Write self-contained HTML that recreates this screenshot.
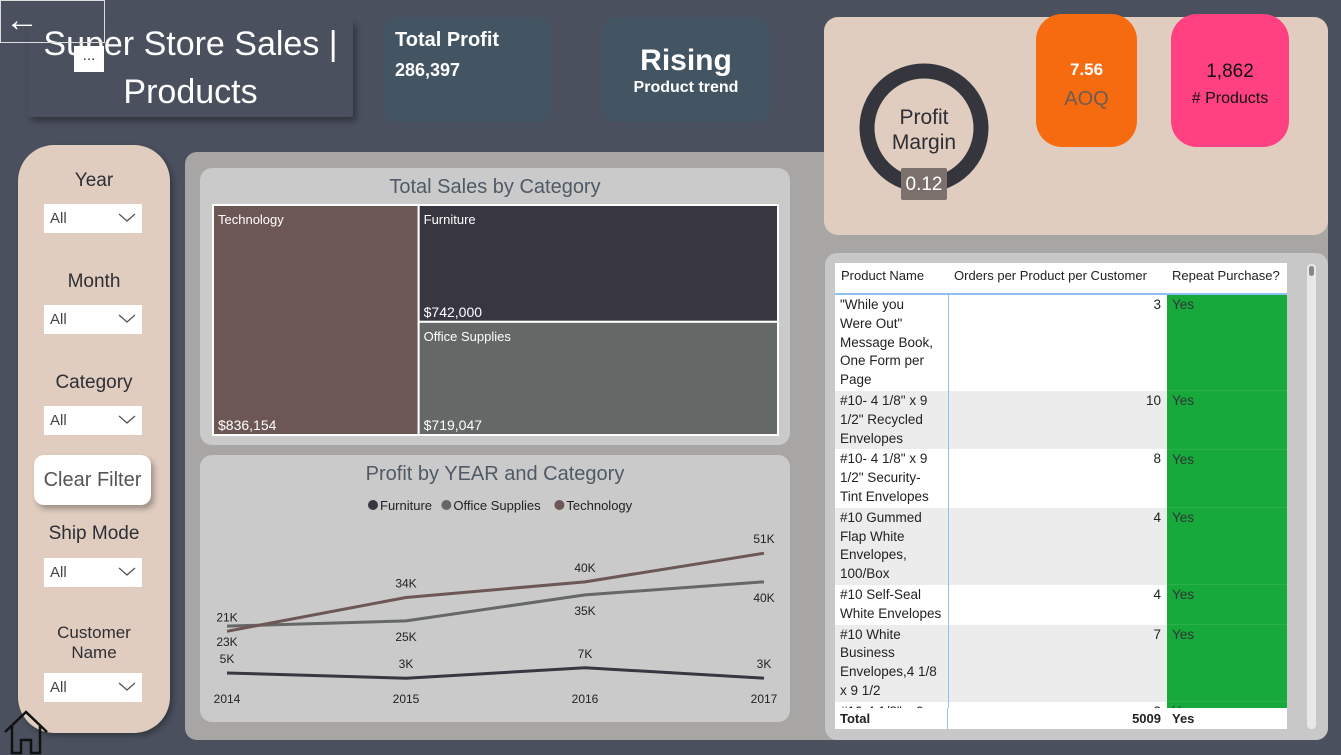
<!DOCTYPE html>
<html><head><meta charset="utf-8"><style>
*{box-sizing:border-box;margin:0;padding:0}
body{width:1341px;height:755px;overflow:hidden;background:#4a505e;font-family:"Liberation Sans",sans-serif;position:relative}
.abs{position:absolute}
.slicer-label{position:absolute;left:18px;width:152px;text-align:center;font-size:19px;color:#2e2e35}
.dd{position:absolute;left:44px;width:98px;height:29px;background:#fff;font-size:15px;color:#444;padding:6px 0 0 6px}
.dd svg{position:absolute;right:6px;top:9px}
td{vertical-align:top}
</style></head><body>
<div class="abs" style="left:28px;top:20px;width:325px;height:97px;background:#4a505e;box-shadow:3px 4px 6px rgba(0,0,0,.35)"></div>
<div class="abs" style="left:28px;top:20px;width:325px;text-align:center;color:#fff;font-size:34px;line-height:48px">Super Store Sales |<br>Products</div>
<div class="abs" style="left:0;top:0;width:105px;height:43px;border:1px solid #ddd;color:#fff;font-size:34px;line-height:38px;padding-left:4px">&#8592;</div>
<div class="abs" style="left:74px;top:46px;width:30px;height:26px;background:#fff;color:#333;text-align:center;font-size:15px;line-height:20px">...</div>
<div class="abs" style="left:383px;top:17px;width:168px;height:105px;background:#435563;border-radius:14px;color:#fff;padding:8px 12px;font-weight:bold;font-size:20px;line-height:30px">Total Profit<br><span style="font-size:18px">286,397</span></div>
<div class="abs" style="left:602px;top:17px;width:168px;height:105px;background:#435563;border-radius:14px;color:#fff;text-align:center;font-weight:bold;padding-top:26px"><div style="font-size:30px;line-height:36px">Rising</div><div style="font-size:16px">Product trend</div></div>

<div class="abs" style="left:185px;top:152px;width:1143px;height:588px;background:#a7a6a4;border-radius:12px"></div>

<div class="abs" style="left:18px;top:145px;width:152px;height:588px;background:#e0cdc0;border-radius:36px;box-shadow:3px 3px 6px rgba(0,0,0,.3)"></div>
<div class="slicer-label" style="top:170px">Year</div>
<div class="dd" style="top:204px">All<svg width="18" height="10"><path d="M1 1 L9 8 L17 1" fill="none" stroke="#555" stroke-width="1.3"/></svg></div>
<div class="slicer-label" style="top:271px">Month</div>
<div class="dd" style="top:305px">All<svg width="18" height="10"><path d="M1 1 L9 8 L17 1" fill="none" stroke="#555" stroke-width="1.3"/></svg></div>
<div class="slicer-label" style="top:372px">Category</div>
<div class="dd" style="top:406px">All<svg width="18" height="10"><path d="M1 1 L9 8 L17 1" fill="none" stroke="#555" stroke-width="1.3"/></svg></div>
<div class="abs" style="left:34px;top:455px;width:117px;height:50px;background:#fff;border-radius:10px;box-shadow:3px 4px 6px rgba(0,0,0,.3);text-align:center;line-height:50px;font-size:20px;color:#555">Clear Filter</div>
<div class="slicer-label" style="top:523px">Ship Mode</div>
<div class="dd" style="top:558px">All<svg width="18" height="10"><path d="M1 1 L9 8 L17 1" fill="none" stroke="#555" stroke-width="1.3"/></svg></div>
<div class="slicer-label" style="top:623px;font-size:17px;line-height:20px">Customer<br>Name</div>
<div class="dd" style="top:673px">All<svg width="18" height="10"><path d="M1 1 L9 8 L17 1" fill="none" stroke="#555" stroke-width="1.3"/></svg></div>
<svg class="abs" style="left:3px;top:708px" width="46" height="47"><path d="M2 24 L23 4 L44 24 M9 18 V45 H18 V32 H28 V45 H37 V18" fill="none" stroke="#111" stroke-width="2.5"/></svg>

<div class="abs" style="left:200px;top:168px;width:590px;height:277px;background:#cacaca;border-radius:12px"></div>
<div class="abs" style="left:200px;top:176px;width:590px;text-align:center;font-size:20px;color:#4f5a66">Total Sales by Category</div>
<svg class="abs" id="tm" style="left:0;top:0" width="1341" height="755"></svg>

<div class="abs" style="left:200px;top:455px;width:590px;height:267px;background:#cacaca;border-radius:12px"></div>
<div class="abs" style="left:200px;top:463px;width:590px;text-align:center;font-size:20px;color:#4f5a66">Profit by YEAR and Category</div>
<svg class="abs" id="lc" style="left:0;top:0" width="1341" height="755"></svg>

<div class="abs" style="left:824px;top:17px;width:504px;height:218px;background:#e0cdc0;border-radius:14px"></div>
<svg class="abs" style="left:858px;top:62px" width="134" height="140"><circle cx="66" cy="66" r="57" fill="none" stroke="#35353e" stroke-width="15"/><rect x="43" y="106" width="46" height="32" rx="2" fill="#7b706c"/><text x="66" y="62" text-anchor="middle" font-size="21" fill="#2e2e35" font-family="Liberation Sans">Profit</text><text x="66" y="87" text-anchor="middle" font-size="21" fill="#2e2e35" font-family="Liberation Sans">Margin</text><text x="66" y="128" text-anchor="middle" font-size="19" fill="#fff" font-family="Liberation Sans">0.12</text></svg>
<div class="abs" style="left:1036px;top:14px;width:101px;height:133px;background:#f66b10;border-radius:26px;text-align:center;padding-top:46px"><div style="color:#fff;font-weight:bold;font-size:17px">7.56</div><div style="color:#6b5c55;font-size:20px;margin-top:8px">AOQ</div></div>
<div class="abs" style="left:1171px;top:14px;width:118px;height:133px;background:#ff4081;border-radius:26px;text-align:center;padding-top:47px;color:#111"><div style="font-size:19px">1,862</div><div style="font-size:16px;margin-top:7px"># Products</div></div>

<div class="abs" style="left:825px;top:253px;width:503px;height:487px;background:#c8c8c8;border-radius:12px"></div>
<div class="abs" style="left:835px;top:263px;width:452px;height:466px;background:#fff;overflow:hidden;font-size:13.5px;color:#222;line-height:18.8px">
<table style="border-collapse:collapse;width:452px;table-layout:fixed;font-size:13px">
<colgroup><col style="width:113px"><col style="width:219px"><col style="width:120px"></colgroup>
<tr style="height:31px;border-bottom:2px solid #8ec0f0"><td style="padding:4px 6px">Product Name</td><td style="padding:4px 6px">Orders per Product per Customer</td><td style="padding:4px 5px">Repeat Purchase?</td></tr>
</table>
<table id="tb" style="border-collapse:collapse;width:452px;table-layout:fixed">
<colgroup><col style="width:113px"><col style="width:219px"><col style="width:120px"></colgroup>
</table>
<div class="abs" style="left:0;top:445px;width:452px;height:21px;background:#fff;font-weight:bold;display:flex;line-height:21px;font-size:13px"><div style="width:113px;padding-left:5px;border-right:1px solid #8ec0f0">Total</div><div style="width:219px;text-align:right;padding-right:6px">5009</div><div style="padding-left:5px">Yes</div></div>
</div>
<div class="abs" style="left:1307px;top:264px;width:9px;height:465px;background:#e8e8e8;border-radius:4px"><div style="width:5px;margin:2px;height:10px;background:#888;border-radius:3px"></div></div>

<script>
const tmCats=["Technology","Furniture","Office Supplies"];
const tmVals=[836154,742000,719047];
const tmLabels=["$836,154","$742,000","$719,047"];
const tmColors=["#6d5755","#373641","#646866"];
(function(){
 const s=document.getElementById('tm'),NS="http://www.w3.org/2000/svg";
 const X=213,Y=205,W=565,H=230;
 const tot=tmVals.reduce((a,b)=>a+b,0);
 const w0=W*tmVals[0]/tot;
 const rest=tmVals[1]+tmVals[2];
 const h1=H*tmVals[1]/rest;
 const rects=[[X,Y,w0,H],[X+w0,Y,W-w0,h1],[X+w0,Y+h1,W-w0,H-h1]];
 rects.forEach((r,i)=>{
  const g=document.createElementNS(NS,'rect');
  
  
  g.setAttribute('x',r[0]);g.setAttribute('y',r[1]);g.setAttribute('width',r[2]);g.setAttribute('height',r[3]);
  g.setAttribute('fill',tmColors[i]);g.setAttribute('stroke','#fff');g.setAttribute('stroke-width','2');
  s.appendChild(g);
  const t=document.createElementNS(NS,'text');
  
  
  t.setAttribute('x',r[0]+5);t.setAttribute('y',r[1]+19);t.setAttribute('fill','#fff');t.setAttribute('font-size','13');t.setAttribute('font-family','Liberation Sans');
  t.textContent=tmCats[i];s.appendChild(t);
  const v=document.createElementNS(NS,'text');
  
  
  v.setAttribute('x',r[0]+5);v.setAttribute('y',r[1]+r[3]-5);v.setAttribute('fill','#fff');v.setAttribute('font-size','14');v.setAttribute('font-family','Liberation Sans');
  v.textContent=tmLabels[i];s.appendChild(v);
 });
})();

const years=["2014","2015","2016","2017"];
const furniture=[5,3,7,3];
const officeSupplies=[23,25,35,40];
const technology=[21,34,40,51];
const seriesNames=["Furniture","Office Supplies","Technology"];
(function(){
 const s=document.getElementById('lc'),NS="http://www.w3.org/2000/svg";
 const xs=i=>227+i*(764-227)/(years.length-1);
 const ys=v=>686-2.604*v;
 const cols=["#373641","#646866","#6d5755"];
 const data=[furniture,officeSupplies,technology];
 const lab=[[-1,-1,-1,-1],[1,1,1,1],[-1,-1,-1,-1]];
 let lx=368;
 seriesNames.forEach((n,i)=>{
  const c=document.createElementNS(NS,'circle');
  
  
  c.setAttribute('cx',lx+5);c.setAttribute('cy',505);c.setAttribute('r',5);c.setAttribute('fill',cols[i]);s.appendChild(c);
  const t=document.createElementNS(NS,'text');
  
  
  t.setAttribute('x',lx+12);t.setAttribute('y',510);t.setAttribute('font-size','13');t.setAttribute('fill','#222');t.setAttribute('font-family','Liberation Sans');
  t.textContent=n;s.appendChild(t);
  lx+=12+n.length*6.6+2;
 });
 years.forEach((y,i)=>{
  const t=document.createElementNS(NS,'text');
  
  
  t.setAttribute('x',xs(i));t.setAttribute('y',703);t.setAttribute('text-anchor','middle');t.setAttribute('font-size','12');t.setAttribute('fill','#222');t.setAttribute('font-family','Liberation Sans');
  t.textContent=y;s.appendChild(t);
 });
 data.forEach((d,k)=>{
  const p=document.createElementNS(NS,'polyline');
  
  
  p.setAttribute('points',d.map((v,i)=>xs(i)+','+ys(v)).join(' '));
  p.setAttribute('fill','none');p.setAttribute('stroke',cols[k]);p.setAttribute('stroke-width','3');
  s.appendChild(p);
 });
 data.forEach((d,k)=>{
  d.forEach((v,i)=>{
   const t=document.createElementNS(NS,'text');
   
   
   t.setAttribute('x',xs(i));t.setAttribute('y',ys(v)+(lab[k][i]<0?-10:20));t.setAttribute('text-anchor','middle');t.setAttribute('font-size','12');t.setAttribute('fill','#222');t.setAttribute('font-family','Liberation Sans');
   t.textContent=v+'K';s.appendChild(t);
  });
 });
})();

const products=['"While you<br>Were Out"<br>Message Book,<br>One Form per<br>Page','#10- 4 1/8" x 9<br>1/2" Recycled<br>Envelopes','#10- 4 1/8" x 9<br>1/2" Security-<br>Tint Envelopes','#10 Gummed<br>Flap White<br>Envelopes,<br>100/Box','#10 Self-Seal<br>White Envelopes','#10 White<br>Business<br>Envelopes,4 1/8<br>x 9 1/2','#10-4 1/8" x 9<br>1/2" Premium'];
const orders=[3,10,8,4,4,7,2];
const repeat=["Yes","Yes","Yes","Yes","Yes","Yes","Yes"];
(function(){
 const tb=document.getElementById('tb');
 products.forEach((p,i)=>{
  const tr=document.createElement('tr');
  
  
  tr.style.background=i%2?'#ececec':'#fff';
  tr.innerHTML='<td style="padding:1px 3px 1px 5px;border-right:1px solid #8ec0f0;white-space:nowrap;overflow:hidden">'+p+'</td><td style="padding:1px 6px;text-align:right">'+orders[i]+'</td><td style="padding:1px 5px;background:#17a93b;color:#333;border-bottom:1px solid #2bb04c">'+repeat[i]+'</td>';
  tb.appendChild(tr);
 });
})();
</script>
</body></html>
